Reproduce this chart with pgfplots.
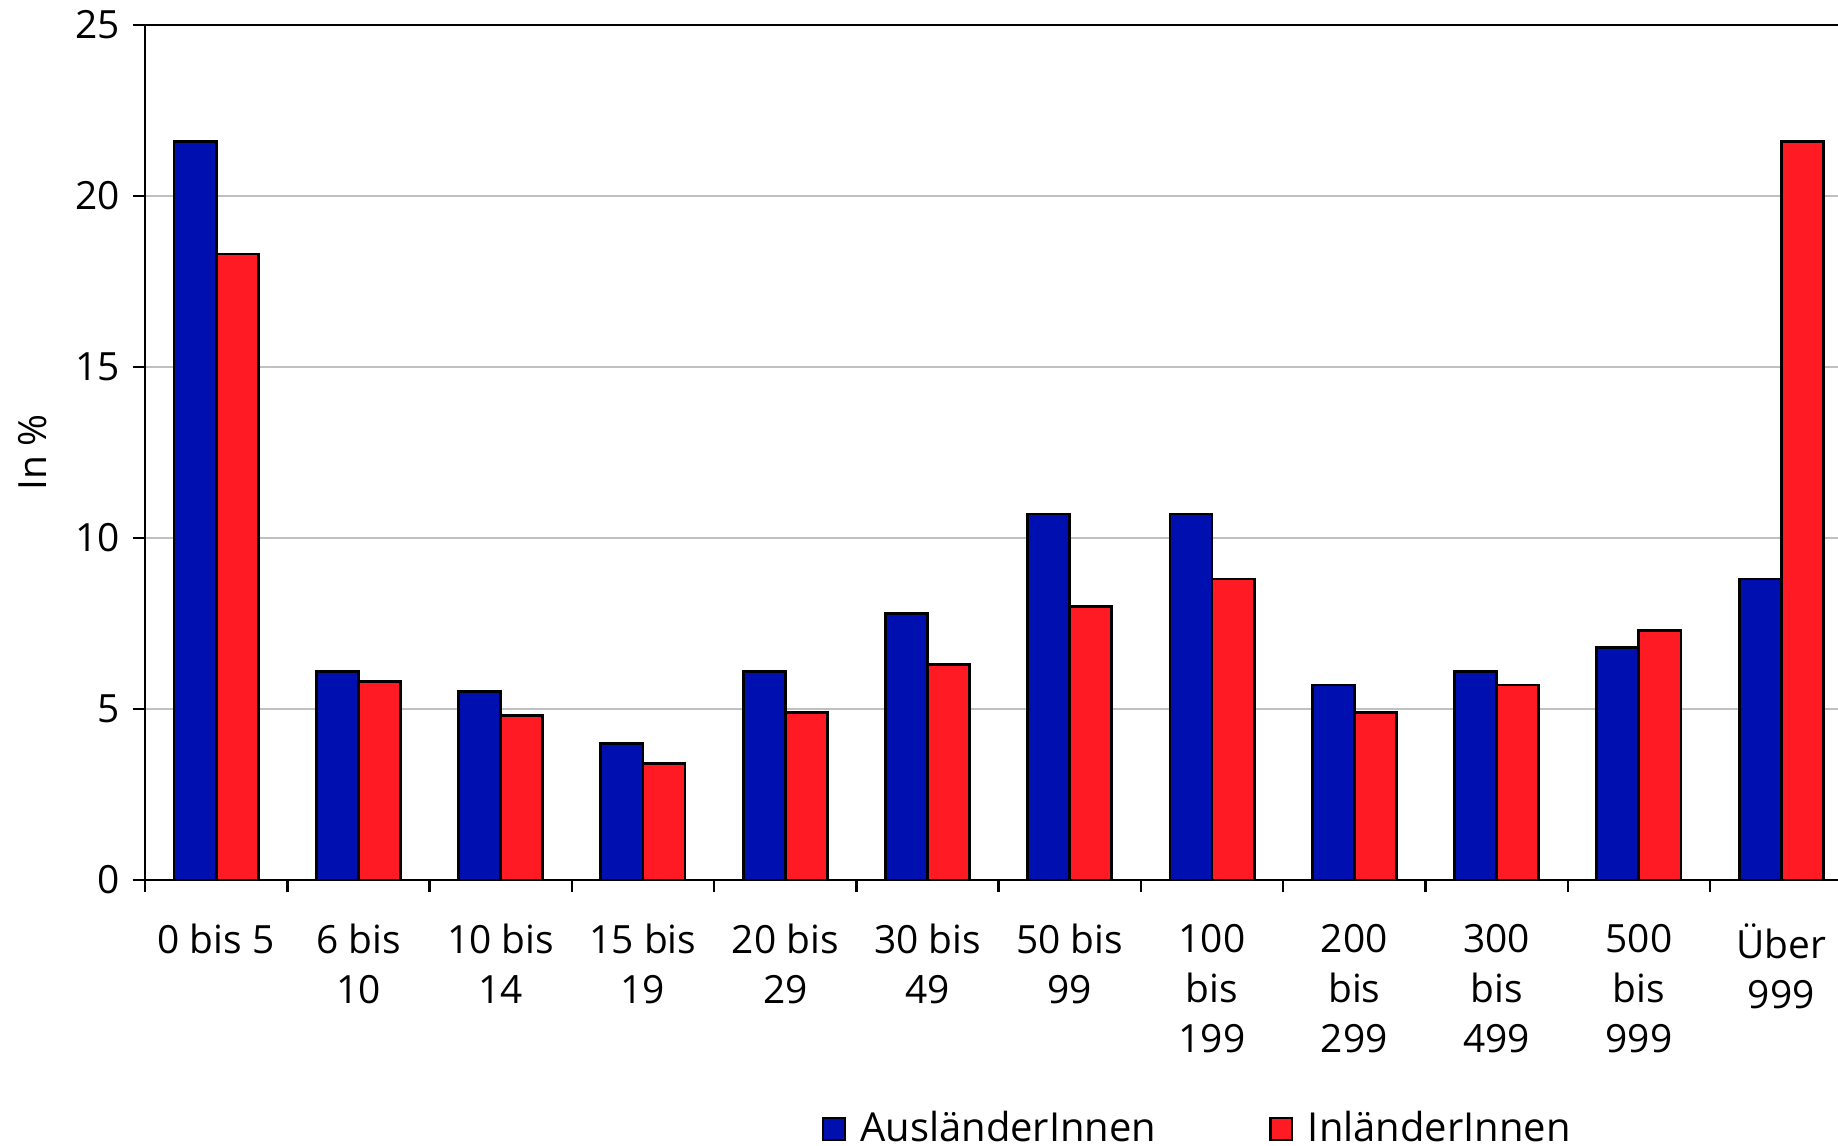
\documentclass[border=0pt]{standalone}
\usepackage{fontspec}
\setmainfont{Open Sans}
\usepackage{pgfplots}
\pgfplotsset{compat=1.18}
\definecolor{cblue}{RGB}{0,16,176}
\definecolor{cred}{RGB}{255,26,36}
\definecolor{cgrid}{RGB}{192,192,192}
\newcommand{\lblfont}{\fontsize{11}{14.1}\selectfont}
\newcommand{\legfont}{\fontsize{11.3}{14.1}\selectfont}
\begin{document}
\begin{tikzpicture}
\begin{axis}[
  scale only axis, width=479pt, height=241.9pt,
  xmin=-0.5, xmax=11.4, ymin=0, ymax=25,
  axis lines*=left, axis line style={line width=0.7pt},
  ybar=0pt, bar width=11.9pt,
  ytick={0,5,...,25}, ymajorgrids, grid style={cgrid, line width=0.6pt},
  major tick length=3.5pt, tick style={black, line width=0.7pt},
  tick align=outside,
  xtick={-0.5,0.5,...,10.5}, xticklabels={},
  extra x ticks={0,1,...,11},
  extra x tick labels={{0 bis 5},{6 bis\\10},{10 bis\\14},{15 bis\\19},{20 bis\\29},{30 bis\\49},{50 bis\\99},{100\\bis\\199},{200\\bis\\299},{300\\bis\\499},{500\\bis\\999},{Über\\999}},
  extra x tick style={major tick length=0pt, tick style={draw=none}},
  xticklabel style={align=center, font=\lblfont, anchor=north, yshift=-9pt},
  yticklabel style={font=\lblfont},
  /pgf/number format/assume math mode=true,
  ylabel={In \%},
  every axis y label/.style={at={(axis description cs:-0.0662,0.5)}, rotate=90, anchor=center, font=\lblfont},
  legend style={at={(axis description cs:0.623,-0.291)}, anchor=center, draw=none, legend columns=2,
    /tikz/every even column/.append style={column sep=30pt}, font=\legfont, inner sep=0pt},
  legend image code/.code={\draw[#1,draw=black,line width=0.6pt] (0pt,-3.1pt) rectangle (6.2pt,3.1pt); \path[draw=none,fill=none] (0pt,0pt) -- (8.6pt,0pt);},
]
\addplot[fill=cblue, draw=black, line width=0.8pt] coordinates {
(0,21.6) (1,6.1) (2,5.5) (3,4.0) (4,6.1) (5,7.8) (6,10.7) (7,10.7) (8,5.7) (9,6.1) (10,6.8) (11,8.8)};
\addplot[fill=cred, draw=black, line width=0.8pt] coordinates {
(0,18.3) (1,5.8) (2,4.8) (3,3.4) (4,4.9) (5,6.3) (6,8.0) (7,8.8) (8,4.9) (9,5.7) (10,7.3) (11,21.6)};
\legend{AusländerInnen, InländerInnen}
\draw[line width=0.7pt] (rel axis cs:0,1) -- (rel axis cs:1,1);
\coordinate (sw) at (rel axis cs:0,0);
\end{axis}
\pgfresetboundingbox
\path (sw) ++(-41.02pt,-75.25pt) rectangle ++(520pt,324.2pt);
\end{tikzpicture}
\end{document}
